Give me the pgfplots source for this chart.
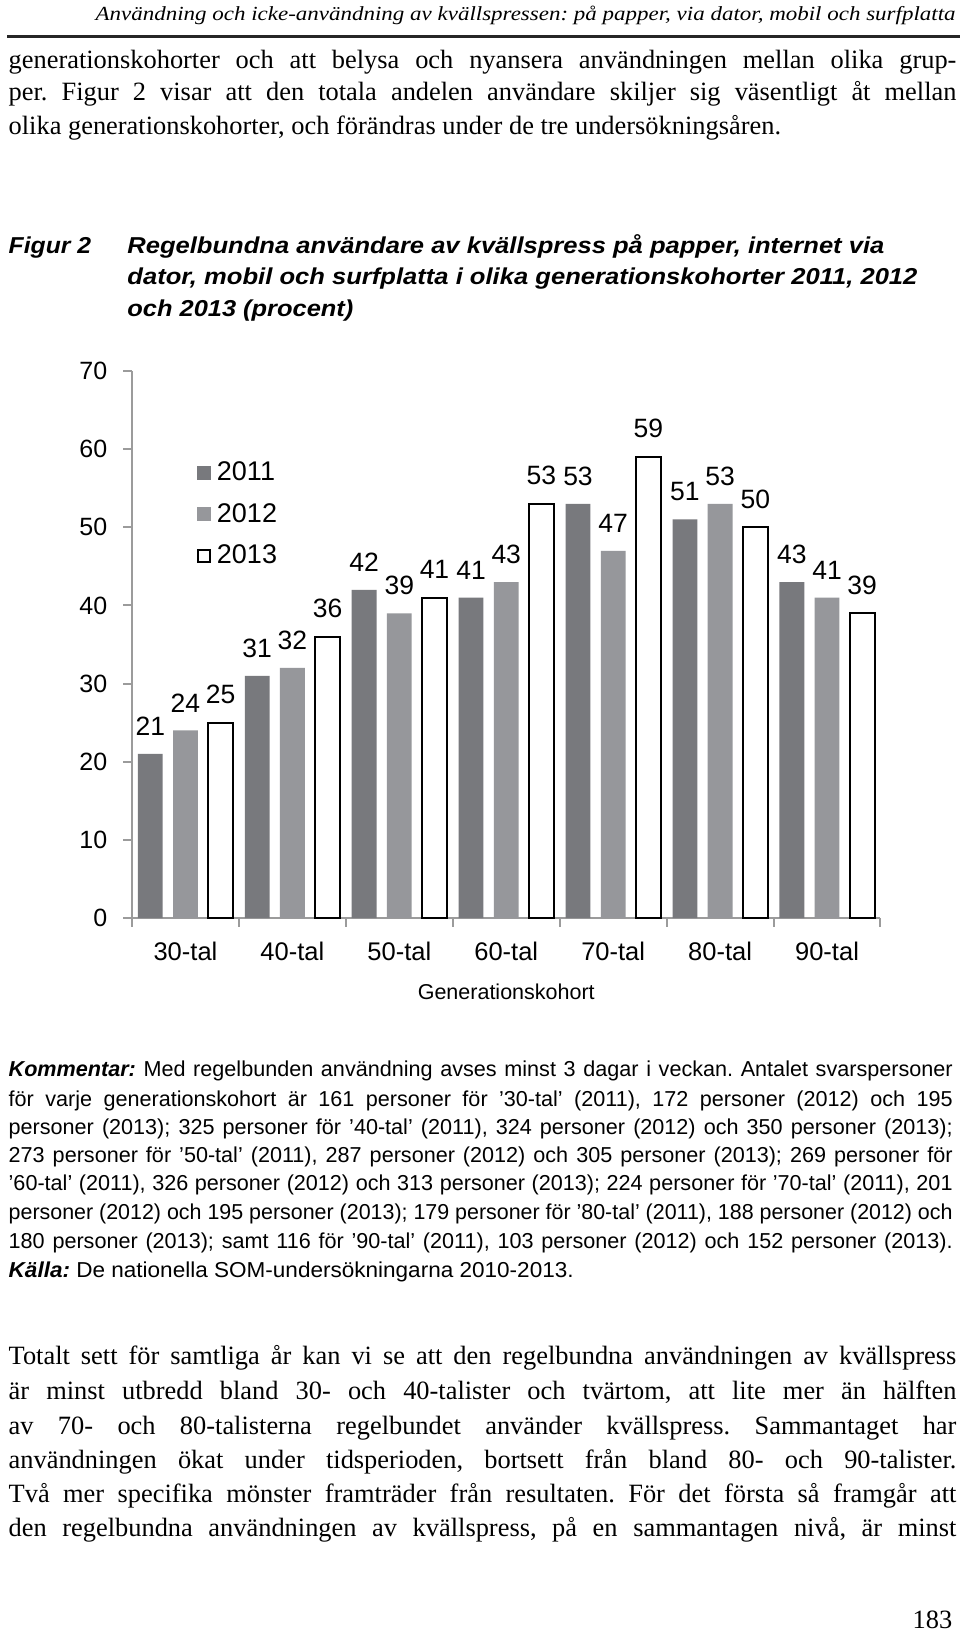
\documentclass[border=0pt]{standalone}
\usepackage{fontspec}
\setmainfont{Liberation Serif}
\newfontfamily\sans{Liberation Sans}
\newfontfamily\chartsans{Liberation Sans}
\usepackage{graphicx}
\usepackage{pgfplots}
\pgfplotsset{compat=1.18}
\definecolor{cA}{RGB}{120,121,125}
\definecolor{cB}{RGB}{150,151,155}
\definecolor{axisgray}{RGB}{155,155,155}
\newsavebox\jlbox
\newcommand\jl[2]{\sbox\jlbox{#2}\ifdim\wd\jlbox>#1\relax\resizebox{#1}{\height}{\usebox\jlbox}\else\makebox[#1][s]{#2}\fi}
\newcommand\fl[2]{\resizebox{#1}{\height}{#2}}
\begin{document}
\frenchspacing
\begin{tikzpicture}
\begin{scope}[x=0.5pt,y=-0.5pt]
\path[use as bounding box, fill=white] (0,0) rectangle (960,1635);
% header
\node[anchor=base east, inner sep=0pt, font=\fontsize{10}{12}\selectfont\itshape] at (956,20)
  {\fl{430pt}{Användning och icke-användning av kvällspressen: på papper, via dator, mobil och surfplatta}};
\draw[line width=1.2pt, black!85] (7,36.5) -- (960,36.5);
% paragraph 1
\begin{scope}[every node/.style={anchor=base west, inner sep=0pt, font=\fontsize{13.2}{15}\selectfont\frenchspacing}]
\node at (8.3,68.5) {\jl{473.85pt}{generationskohorter och att belysa och nyansera användningen mellan olika grup-}};
\node at (8.3,100.8) {\jl{473.85pt}{per. Figur 2 visar att den totala andelen användare skiljer sig väsentligt åt mellan}};
\node at (8.3,134) {olika generationskohorter, och förändras under de tre undersökningsåren.};
\end{scope}
% figure title
\begin{scope}[every node/.style={anchor=base west, inner sep=0pt, font=\sans\fontsize{11.5}{14}\selectfont\bfseries\itshape}]
\node at (8.3,253.5) {\fl{41.2pt}{Figur 2}};
\node at (127,253.5) {\fl{378.5pt}{Regelbundna användare av kvällspress på papper, internet via}};
\node at (127,284.5) {\fl{395pt}{dator, mobil och surfplatta i olika generationskohorter 2011, 2012}};
\node at (127,316) {\fl{113pt}{och 2013 (procent)}};
\end{scope}
% comment
\begin{scope}[every node/.style={anchor=base west, inner sep=0pt, font=\sans\fontsize{10.8}{13}\selectfont\frenchspacing}]
\node at (8.3,1076.5) {\jl{472pt}{\textbf{\textit{Kommentar:}} Med regelbunden användning avses minst 3 dagar i veckan. Antalet svarspersoner}};
\node at (8.3,1106) {\jl{472pt}{för varje generationskohort är 161 personer för ’30-tal’ (2011), 172 personer (2012) och 195}};
\node at (8.3,1134.2) {\jl{472pt}{personer (2013); 325 personer för ’40-tal’ (2011), 324 personer (2012) och 350 personer (2013);}};
\node at (8.3,1162.3) {\jl{472pt}{273 personer för ’50-tal’ (2011), 287 personer (2012) och 305 personer (2013); 269 personer för}};
\node at (8.3,1190.6) {\jl{472pt}{’60-tal’ (2011), 326 personer (2012) och 313 personer (2013); 224 personer för ’70-tal’ (2011), 201}};
\node at (8.3,1219) {\jl{472pt}{personer (2012) och 195 personer (2013); 179 personer för ’80-tal’ (2011), 188 personer (2012) och}};
\node at (8.3,1248) {\jl{472pt}{180 personer (2013); samt 116 för ’90-tal’ (2011), 103 personer (2012) och 152 personer (2013).}};
\node at (8.3,1277) {\fl{282.5pt}{\textbf{\textit{Källa:}} De nationella SOM-undersökningarna 2010-2013.}};
\end{scope}
% bottom paragraph
\begin{scope}[every node/.style={anchor=base west, inner sep=0pt, font=\fontsize{13.2}{15}\selectfont\frenchspacing}]
\node at (8.3,1364) {\jl{473.85pt}{Totalt sett för samtliga år kan vi se att den regelbundna användningen av kvällspress}};
\node at (8.3,1399) {\jl{473.85pt}{är minst utbredd bland 30- och 40-talister och tvärtom, att lite mer än hälften}};
\node at (8.3,1434) {\jl{473.85pt}{av 70- och 80-talisterna regelbundet använder kvällspress. Sammantaget har}};
\node at (8.3,1468) {\jl{473.85pt}{användningen ökat under tidsperioden, bortsett från bland 80- och 90-talister.}};
\node at (8.3,1502.5) {\jl{473.85pt}{Två mer specifika mönster framträder från resultaten. För det första så framgår att}};
\node at (8.3,1536.5) {\jl{473.85pt}{den regelbundna användningen av kvällspress, på en sammantagen nivå, är minst}};
\node[anchor=base east] at (952.6,1628) {183};
\end{scope}
\end{scope}
\begin{axis}[
  at={(66pt,-459pt)}, anchor=south west,
  scale only axis, width=374.25pt, height=273.5pt,
  xmin=-0.5, xmax=6.5, ymin=0, ymax=70,
  axis x line*=bottom, axis y line*=left,
  axis line style={draw=axisgray, line width=1pt},
  tick style={draw=axisgray, line width=1pt},
  tick align=outside, major tick length=4.3pt,
  ytick={0,10,...,70},
  xtick={-0.5,0.5,...,6.5},
  xticklabels={30-tal,40-tal,50-tal,60-tal,70-tal,80-tal,90-tal},
  x tick label as interval,
  /pgf/number format/assume math mode=true,
  yticklabel style={font=\chartsans\fontsize{12.5}{15}\selectfont, anchor=east, inner sep=0pt, xshift=-7.9pt},
  xticklabel style={font=\chartsans\fontsize{12.75}{15}\selectfont, anchor=north, inner sep=0pt, yshift=-7.7pt},
  xlabel={Generationskohort},
  xlabel style={at={(axis description cs:0.5,-0.1495)}, anchor=base, inner sep=0pt, font=\chartsans\fontsize{10.75}{13}\selectfont},
  ybar, bar width=0.232,
  clip=false,
  nodes near coords,
  every node near coord/.append style={font=\chartsans\fontsize{13.25}{16}\selectfont, text=black, anchor=south, inner sep=0pt, yshift=9pt},
  legend style={at={(0.0868,0.8336)}, anchor=north west, draw=none, fill=none, inner sep=0pt, outer sep=0pt,
    font=\chartsans\fontsize{13.5}{16}\selectfont, nodes={inner sep=0pt}, row sep=9.8pt,
    /tikz/every odd column/.append style={column sep=3pt}},
  legend cell align=left,
]
\addplot[fill=cA, draw=none, bar shift=-0.329,
  legend image code/.code={\fill[cA] (0pt,-3.5pt) rectangle (7pt,3.5pt);}]
  coordinates {(0,21) (1,31) (2,42) (3,41) (4,53) (5,51) (6,43)};
\addplot[fill=cB, draw=none, bar shift=0,
  legend image code/.code={\fill[cB] (0pt,-3.5pt) rectangle (7pt,3.5pt);}]
  coordinates {(0,24) (1,32) (2,39) (3,43) (4,47) (5,53) (6,41)};
\addplot[fill=white, draw=black, line width=1pt, bar shift=0.329,
  legend image code/.code={\draw[black, line width=1pt, fill=white] (0.5pt,-3pt) rectangle (6.5pt,3pt);}]
  coordinates {(0,25) (1,36) (2,41) (3,53) (4,59) (5,50) (6,39)};
\legend{2011,2012,2013}
\end{axis}
\end{tikzpicture}
\end{document}
